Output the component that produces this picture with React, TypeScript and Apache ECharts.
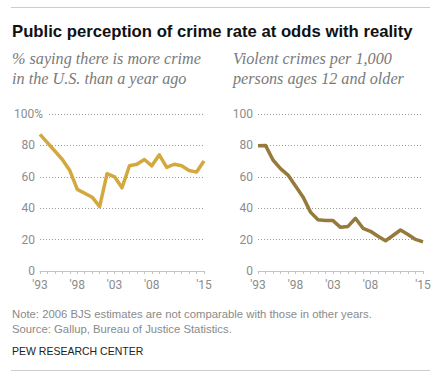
import React, { useEffect, useRef } from "react";
import * as echarts from "echarts";

const years = [
  1993, 1994, 1995, 1996, 1997, 1998, 1999, 2000, 2001, 2002, 2003, 2004,
  2005, 2006, 2007, 2008, 2009, 2010, 2011, 2012, 2013, 2014, 2015,
];
const labelYears = [1993, 1998, 2003, 2008, 2015];
// % saying there is more crime than a year ago (Gallup); null = no survey that year
const perception = [87, null, null, 71, 64, 52, null, 47, 41, 62, 60, 53, 67, 68, 71, 67, 74, 66, 68, 67, 64, 63, 70];
// Violent crimes per 1,000 persons ages 12 and older (BJS)
const violent = [79.8, 80.0, 70.7, 65.2, 61.1, 54.1, 47.2, 37.5, 32.6, 32.1, 32.1, 27.8, 28.4, 33.6, 27.2, 25.3, 22.1, 19.3, 22.6, 26.1, 23.2, 20.1, 18.6];

const title = "Public perception of crime rate at odds with reality";
const leftSub = ["% saying there is more crime", "in the U.S. than a year ago"];
const rightSub = ["Violent crimes per 1,000", "persons ages 12 and older"];
const note = "Note: 2006 BJS estimates are not comparable with those in other years.";
const source = "Source: Gallup, Bureau of Justice Statistics.";
const credit = "PEW RESEARCH CENTER";

const labelColor = "#8c8c8c";
const labelFont = "Roboto";
const yearLabel = (v: number) => "'" + String(v).slice(2);

export default function App() {
  const ref = useRef<HTMLDivElement>(null);
  useEffect(() => {
    if (!ref.current) return;
    const chart = echarts.init(ref.current, null, { renderer: "svg" });

    const xAxis = (gridIndex: number) => ({
      type: "value" as const,
      gridIndex,
      min: years[0],
      max: years[years.length - 1],
      axisLine: { show: true, onZero: false, lineStyle: { color: "#c4c4c4", width: 1 } },
      axisTick: { show: true, length: 3, customValues: years, lineStyle: { color: "#c4c4c4" } },
      axisLabel: { show: false },
      splitLine: { show: false },
    });

    const gridLineStyle = { color: "#9a9a9a", width: 1, type: [1, 2] as number[] };

    chart.setOption({
      animation: false,
      grid: [
        { left: 40, top: 114, width: 164, height: 157 },
        { left: 258, top: 114, width: 165, height: 157 },
      ],
      xAxis: [xAxis(0), xAxis(1)],
      yAxis: [
        {
          type: "value",
          gridIndex: 0,
          min: 0,
          max: 100,
          interval: 20,
          axisLine: { show: false },
          axisTick: { show: false },
          axisLabel: { show: false },
          splitLine: { show: true, lineStyle: gridLineStyle },
          z: 0,
        },
        {
          type: "value",
          gridIndex: 0,
          position: "left",
          min: 0,
          max: 100,
          interval: 20,
          axisLine: { show: false },
          axisTick: { show: false },
          splitLine: { show: false },
          axisLabel: {
            margin: -7,
            formatter: (v: number) => (v === 100 ? "{a|" + v + "%}" : "{b|" + v + "}"),
            rich: {
              a: { color: labelColor, fontFamily: labelFont, fontSize: 12, backgroundColor: "#fff", padding: [0, 4, 0, 0] },
              b: { color: labelColor, fontFamily: labelFont, fontSize: 12, padding: [0, 12, 0, 0] },
            },
          },
          z: 10,
        },
        {
          type: "value",
          gridIndex: 1,
          min: 0,
          max: 100,
          interval: 20,
          axisLine: { show: false },
          axisTick: { show: false },
          axisLabel: { color: labelColor, fontFamily: labelFont, fontSize: 12, margin: 5 },
          splitLine: { show: true, lineStyle: gridLineStyle },
        },
      ],
      series: [
        {
          type: "line",
          xAxisIndex: 0,
          yAxisIndex: 0,
          data: years.map((y, i) => [y, perception[i]]),
          connectNulls: true,
          showSymbol: false,
          symbol: "none",
          lineStyle: { color: "#d3a93f", width: 3.5, join: "round", cap: "butt" },
          z: 5,
        },
        {
          type: "line",
          xAxisIndex: 1,
          yAxisIndex: 2,
          data: years.map((y, i) => [y, violent[i]]),
          showSymbol: false,
          symbol: "none",
          lineStyle: { color: "#967a3b", width: 3.5, join: "round", cap: "butt" },
          z: 5,
        },
      ],
    });

    // x-axis year labels, placed through the axes' own scales
    const xLabelTexts: any[] = [];
    [
      { xAxisIndex: 0, yAxisIndex: 0 },
      { xAxisIndex: 1, yAxisIndex: 2 },
    ].forEach((ax) => {
      const baseY = chart.convertToPixel({ yAxisIndex: ax.yAxisIndex }, 0) as number;
      labelYears.forEach((yr) => {
        const px = chart.convertToPixel({ xAxisIndex: ax.xAxisIndex }, yr) as number;
        xLabelTexts.push({
          type: "text",
          silent: true,
          style: {
            text: yearLabel(yr),
            x: px,
            y: baseY + 8,
            align: "center",
            verticalAlign: "top",
            fill: labelColor,
            font: "12px " + labelFont,
          },
        });
      });
    });

    chart.setOption({
      graphic: [
        { type: "line", shape: { x1: 11, y1: 7.5, x2: 430, y2: 7.5 }, style: { stroke: "#cccccc", lineWidth: 1 } },
        {
          type: "text",
          style: { text: title, x: 12, y: 31, verticalAlign: "middle", fill: "#111", font: "bold 16.7px 'Liberation Sans', Arial, sans-serif" },
        },
        ...leftSub.map((t, i) => ({
          type: "text",
          style: { text: t, x: 12, y: 59 + i * 20, verticalAlign: "middle", fill: "#7a7a7a", font: "italic 16.2px 'Liberation Serif', serif" },
        })),
        ...rightSub.map((t, i) => ({
          type: "text",
          style: { text: t, x: 233, y: 59 + i * 20, verticalAlign: "middle", fill: "#7a7a7a", font: "italic 16.2px 'Liberation Serif', serif" },
        })),
        ...xLabelTexts,
        {
          type: "text",
          style: { text: note, x: 12, y: 314, verticalAlign: "middle", fill: "#8a8a8a", font: "11.3px 'Liberation Sans', Arial, sans-serif" },
        },
        {
          type: "text",
          style: { text: source, x: 12, y: 329, verticalAlign: "middle", fill: "#8a8a8a", font: "11.3px 'Liberation Sans', Arial, sans-serif" },
        },
        {
          type: "text",
          style: { text: credit, x: 12, y: 351, verticalAlign: "middle", fill: "#222", font: "10.5px 'Liberation Sans', Arial, sans-serif" },
        },
        { type: "line", shape: { x1: 11, y1: 370.5, x2: 430, y2: 370.5 }, style: { stroke: "#cccccc", lineWidth: 1 } },
      ],
    });
    return () => chart.dispose();
  }, []);

  return (
    <div style={{ position: "absolute", left: 0, top: 0, width: 442, height: 381, background: "#fff" }}>
      <div ref={ref} style={{ width: 442, height: 381 }} />
    </div>
  );
}
